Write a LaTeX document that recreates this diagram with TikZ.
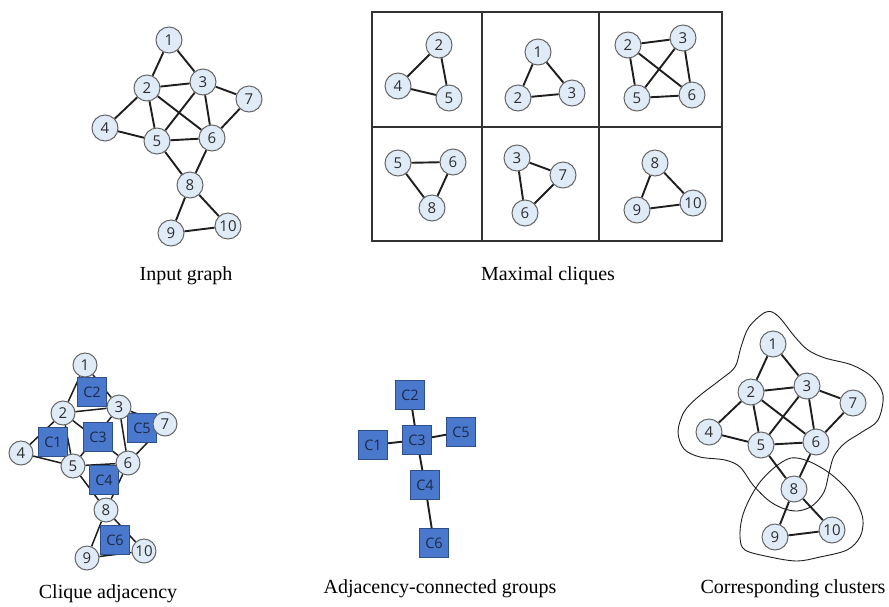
\documentclass[tikz,border=0pt]{standalone}
\usepackage{fontspec}
\setmainfont{Liberation Serif}
\newfontfamily\numfont{Open Sans}
\definecolor{vfill}{HTML}{DFEBF7}
\definecolor{vborder}{HTML}{666666}
\definecolor{vtext}{HTML}{2E2E2E}
\definecolor{edgec}{HTML}{1E1E1E}
\definecolor{cfill}{HTML}{4A78CC}
\definecolor{cborder}{HTML}{2E4F8A}
\definecolor{ctext}{HTML}{1B2A48}
\definecolor{gridc}{HTML}{333333}
\pgfdeclarelayer{edges}
\pgfsetlayers{edges,main}
\tikzset{
  vtx/.style={circle, draw=vborder, fill=vfill, line width=1pt, minimum size=26pt,
    inner sep=0pt, text=vtext, font=\numfont\fontsize{15}{15}\selectfont},
  vtxs/.style={vtx, minimum size=24pt},
  edge/.style={draw=edgec, line width=1.9pt},
  thinedge/.style={draw=edgec, line width=1.5pt},
  cliq/.style={rectangle, draw=cborder, fill=cfill, line width=0.8pt, minimum size=29pt,
    inner sep=0pt, text=ctext, font=\numfont\fontsize{14.5}{14.5}\selectfont},
  grid/.style={draw=gridc, line width=1.7pt},
  blob/.style={draw=edgec, line width=0.9pt},
  caption/.style={font=\fontsize{20}{20}\selectfont, text=black, inner sep=0pt}
}
% vertex layout shared by the three copies of the graph
\newcommand\placevertices[1]{%
  \node[#1] (v1) at (169,40) {1};
  \node[#1] (v2) at (147,88) {2};
  \node[#1] (v3) at (203,82) {3};
  \node[#1] (v7) at (249,99) {7};
  \node[#1] (v4) at (105,128) {4};
  \node[#1] (v5) at (157,141) {5};
  \node[#1] (v6) at (212,138) {6};
  \node[#1] (v8) at (190,185) {8};
  \node[#1] (v9) at (171,233) {9};
  \node[#1] (v10) at (228,226) {10};
}
% edges go on the lowest layer, under squares and circles
\newcommand\joinvertices[1]{%
  \begin{pgfonlayer}{edges}
  \foreach \a/\b in {1/2,1/3,2/3,2/4,2/5,2/6,3/5,3/6,3/7,4/5,5/6,6/7,5/8,6/8,8/9,8/10,9/10}
    \draw[#1] (v\a) -- (v\b);
  \end{pgfonlayer}
}
\begin{document}
\begin{tikzpicture}[x=1pt,y=-1pt]
\begin{pgfonlayer}{edges}
\fill[white] (0,0) rectangle (889,606);
\end{pgfonlayer}
\useasboundingbox (0,0) rectangle (889,606);

% input graph
\begin{scope}[name prefix=in-]
  \placevertices{vtx}
  \joinvertices{edge}
\end{scope}
\node[caption] (capin) at (186,276) {Input graph};

% table of maximal cliques
\draw[grid] (372,12) rectangle (722,241);
\draw[grid] (482,12) -- (482,241);
\draw[grid] (599,12) -- (599,241);
\draw[grid] (372,127) -- (722,127);

\node[vtx] (a2) at (439,45) {2};
\node[vtx] (a4) at (398,86) {4};
\node[vtx] (a5) at (449,98) {5};
\draw[edge] (a2) -- (a4); \draw[edge] (a2) -- (a5); \draw[edge] (a4) -- (a5);

\node[vtx] (b1) at (538,52) {1};
\node[vtx] (b2) at (518,98) {2};
\node[vtx] (b3) at (572,93) {3};
\draw[edge] (b1) -- (b2); \draw[edge] (b1) -- (b3); \draw[edge] (b2) -- (b3);

\node[vtx] (c2) at (628,45) {2};
\node[vtx] (c3) at (683,38) {3};
\node[vtx] (c5) at (637,98) {5};
\node[vtx] (c6) at (692,95) {6};
\foreach \a/\b in {2/3,2/5,2/6,3/5,3/6,5/6} \draw[edge] (c\a) -- (c\b);

\node[vtx] (d5) at (398,163) {5};
\node[vtx] (d6) at (453,162) {6};
\node[vtx] (d8) at (432,208) {8};
\draw[edge] (d5) -- (d6); \draw[edge] (d5) -- (d8); \draw[edge] (d6) -- (d8);

\node[vtx] (e3) at (517,158) {3};
\node[vtx] (e7) at (563,175) {7};
\node[vtx] (e6) at (525,213) {6};
\draw[edge] (e3) -- (e7); \draw[edge] (e3) -- (e6); \draw[edge] (e7) -- (e6);

\node[vtx] (f8) at (655,163) {8};
\node[vtx] (f9) at (637,210) {9};
\node[vtx] (f10) at (693,203) {10};
\draw[edge] (f8) -- (f9); \draw[edge] (f8) -- (f10); \draw[edge] (f9) -- (f10);

\node[caption] (capmc) at (548,276) {Maximal cliques};

% clique adjacency: cliques laid over the graph's edges, circles on top
\node[cliq] (q2) at (92,392) {C2};
\node[cliq] (q1) at (53,442) {C1};
\node[cliq] (q3) at (98,437) {C3};
\node[cliq] (q5) at (142,428) {C5};
\node[cliq] (q4) at (104,480) {C4};
\node[cliq] (q6) at (115,540) {C6};
\begin{scope}[shift={(-84,325)}, name prefix=adj-]
  \placevertices{vtxs}
  \joinvertices{thinedge}
\end{scope}
\node[caption] (capca) at (108,594) {Clique adjacency};

% groups of adjacent cliques
\node[cliq] (g2) at (410,395) {C2};
\node[cliq] (g3) at (417,440) {C3};
\node[cliq] (g1) at (373,445) {C1};
\node[cliq] (g5) at (461,432) {C5};
\node[cliq] (g4) at (425,485) {C4};
\node[cliq] (g6) at (434,543) {C6};
\draw[edge] (g2) -- (g3);
\draw[edge] (g1) -- (g3);
\draw[edge] (g3) -- (g5);
\draw[edge] (g3) -- (g4);
\draw[edge] (g4) -- (g6);
\node[caption] (capag) at (440,589) {Adjacency-connected groups};

% clusters drawn as outlines round the graph
\draw[blob] plot[smooth cycle, tension=0.55] coordinates {
  (766,312) (778,316) (795,337) (808,350) (825,358) (852,365) (872,377)
  (883,395) (878,420) (862,432) (845,443) (834,456) (829,473) (824,492)
  (812,506) (797,511) (782,508) (768,500) (753,485) (740,467) (725,460)
  (700,457) (684,449) (678,432) (684,412) (698,397) (720,380) (735,367)
  (741,347) (749,327)};
\draw[blob] plot[smooth cycle, tension=0.55] coordinates {
  (791,458) (808,461) (828,472) (845,487) (857,503) (863,520) (860,537)
  (847,550) (820,557) (797,561) (770,557) (745,550) (740,537) (742,518)
  (749,500) (760,482) (775,467)};
\begin{scope}[shift={(604,304)}, name prefix=cl-]
  \placevertices{vtx}
  \joinvertices{edge}
\end{scope}
\node[caption] (capcc) at (793,589) {Corresponding clusters};
\end{tikzpicture}
\end{document}
